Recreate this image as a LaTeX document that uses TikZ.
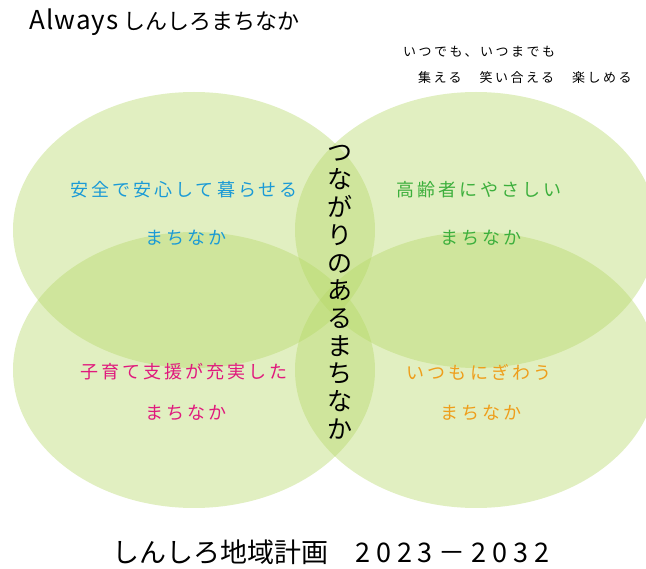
\documentclass[tikz,border=0pt]{standalone}
\usepackage{fontspec}
\setmainfont{Noto Sans CJK JP}
\newfontfamily\jpsp[LetterSpace=17]{Noto Sans CJK JP}
\newfontfamily\jpsub[LetterSpace=19]{Noto Sans CJK JP}
\newfontfamily\latsp[LetterSpace=4]{Noto Sans CJK JP}
\newfontfamily\digsp[LetterSpace=22]{Noto Sans CJK JP}
\usetikzlibrary{shapes.geometric}
\definecolor{leaf}{RGB}{180,215,100}
\definecolor{lblue}{RGB}{26,154,214}
\definecolor{lgreen}{RGB}{60,175,60}
\definecolor{lmag}{RGB}{224,25,125}
\definecolor{lorange}{RGB}{238,158,27}
\tikzset{
  petal/.style={ellipse, fill=leaf, fill opacity=0.4, draw=none, minimum width=362pt, minimum height=276pt, inner sep=0pt},
  lbl/.style={inner sep=0pt, font=\jpsp\fontsize{18}{20}\selectfont},
}
\begin{document}
\begin{tikzpicture}[x=1pt,y=-1pt]
\useasboundingbox (0,0) rectangle (646,569);
\node[petal] (tl) at (194,230) {};
\node[petal] (tr) at (476,230) {};
\node[petal] (bl) at (194,370) {};
\node[petal] (br) at (476,370) {};

\node[anchor=west, inner sep=0pt, font=\fontsize{22}{24}\selectfont] (title) at (29,22) {{\latsp\fontsize{26}{28}\selectfont Always}\hspace{5pt}しんしろまちなか};
\node[anchor=west, inner sep=0pt, font=\jpsub\fontsize{13}{15}\selectfont] (sub1) at (403,52) {いつでも、いつまでも};
\node[anchor=west, inner sep=0pt, font=\jpsub\fontsize{13}{15}\selectfont] (sub2) at (418,78) {集える　笑い合える　楽しめる};

\node[lbl, text=lblue] (a1) at (184,190) {安全で安心して暮らせる};
\node[lbl, text=lblue] (a2) at (186,238) {まちなか};
\node[lbl, text=lgreen] (b1) at (479,190) {高齢者にやさしい};
\node[lbl, text=lgreen] (b2) at (481,238) {まちなか};
\node[lbl, text=lmag] (c1) at (184,372) {子育て支援が充実した};
\node[lbl, text=lmag] (c2) at (186,413) {まちなか};
\node[lbl, text=lorange] (d1) at (479,372) {いつもにぎわう};
\node[lbl, text=lorange] (d2) at (481,413) {まちなか};

\node[inner sep=0pt, align=center, font=\fontsize{25}{27.7}\selectfont] (vert) at (340,292) {つ\\な\\が\\り\\の\\あ\\る\\ま\\ち\\な\\か};

\node[anchor=west, inner sep=0pt, font=\fontsize{27}{29}\selectfont] (foot) at (112,552) {しんしろ地域計画　{\digsp 2023－2032}};
\end{tikzpicture}
\end{document}
